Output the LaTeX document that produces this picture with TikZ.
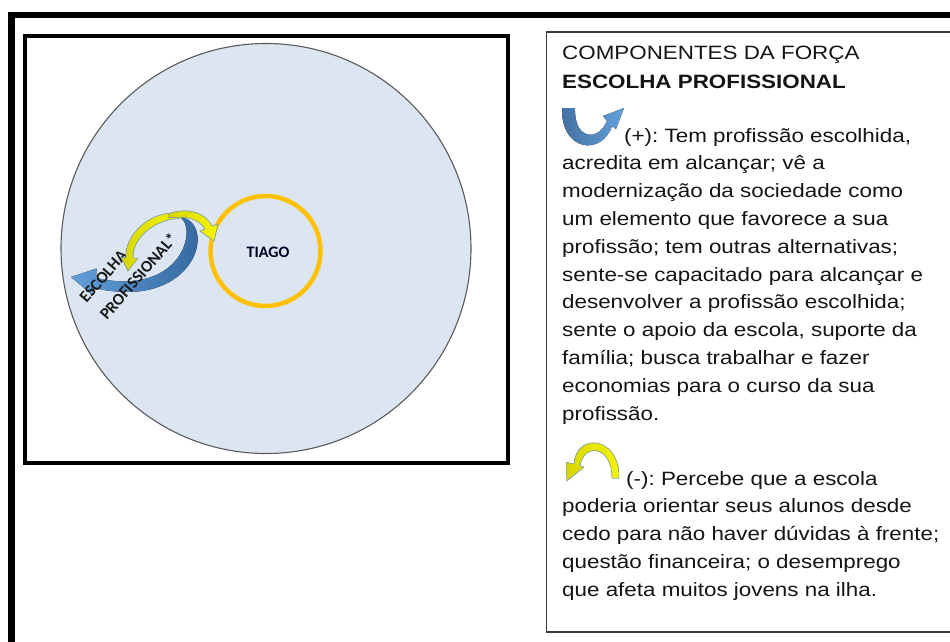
\documentclass[tikz,border=0pt]{standalone}
\usepackage{fontspec}
\setmainfont{Liberation Sans}
\newfontfamily\boxfont[FakeStretch=1.16]{Liberation Sans}
\newfontfamily\labelfont{Carlito}
\frenchspacing
\definecolor{circfill}{HTML}{DCE6F2}
\definecolor{circline}{HTML}{5A5A5A}
\definecolor{tiago}{HTML}{FFC000}
\definecolor{blight}{HTML}{62A0DA}
\definecolor{bdark}{HTML}{2F6198}
\definecolor{yel}{HTML}{F5F500}
\definecolor{yeldark}{HTML}{D6D600}
\definecolor{yline}{HTML}{7F9CC0}
\definecolor{boxline}{HTML}{3A3A3A}
\definecolor{txt}{HTML}{141414}
\tikzset{
  legendline/.style={anchor=base west, inner sep=0pt, text=txt, font=\boxfont\fontsize{19.3}{27.8}\selectfont},
  yellowarrow/.style={left color=yeldark, right color=yel, draw=yline, line width=0.5pt},
  bluearrow/.style={left color=blight, right color=bdark},
  rotlabel/.style={anchor=base west, inner sep=0pt, rotate=49, font=\labelfont\bfseries\fontsize{16.5}{19}\selectfont, text=black!90},
}
\begin{document}
\begin{tikzpicture}[x=1pt,y=-1pt]
\useasboundingbox (0,0) rectangle (950,641);
\begin{scope}
\clip (0,0) rectangle (950,641);
% outer frame
\draw[line width=6.5pt] (980,15) -- (11.5,15) -- (11.5,680);
% left box
\draw[line width=4pt] (25,36) rectangle (508,463);
% right box
\draw[line width=1.3pt, boxline] (980,32) -- (546.5,32) -- (546.5,632) -- (980,632);
\end{scope}

% big circle
\node[circle, draw=circline, fill=circfill, line width=1.1pt, minimum size=410pt, inner sep=0pt] (field) at (266,248.5) {};
% Tiago circle
\node[circle, draw=tiago, line width=4.5pt, minimum size=110pt, inner sep=0pt] (tiagoc) at (265.5,251) {};
\node[font=\labelfont\bfseries\fontsize{16}{18}\selectfont, text=black!85!blue] (tiago) at (268,252.5) {TIAGO};

% blue arrow (behind text)
\fill[bluearrow] (180,217) .. controls (198,228) and (182,297) .. (96.2,278.1)
  -- (96.6,268.5) -- (71,277) -- (92.4,295) -- (93.8,287.9)
  .. controls (197,312) and (218,222) .. (180,217) -- cycle;

% rotated label
\node[rotlabel] (esc) at (86.5,304) {ESCOLHA};
\node[rotlabel] (prof) at (107,321) {PROFISSIONAL*};

% yellow arrows
\filldraw[yellowarrow] (182,214) .. controls (150,208) and (124,236) .. (126,258)
  -- (121,257) -- (128,271) -- (138,258) -- (133,258)
  .. controls (132,240) and (152,219) .. (182,218) -- cycle;
\filldraw[yellowarrow] (168,214) .. controls (186,207) and (205,212) .. (212,226)
  -- (218,224) -- (214,241) -- (200,231) -- (205,229)
  .. controls (199,219) and (185,215) .. (168,218) -- cycle;

% legend text
\node[legendline] (t1) at (562,59) {COMPONENTES DA FORÇA};
\node[legendline, font=\boxfont\bfseries\fontsize{19.3}{27.8}\selectfont] (t2) at (562,88) {ESCOLHA PROFISSIONAL};

% blue legend icon
\fill[left color=bdark!90, right color=blight] (562,108) .. controls (561,152) and (602,156) .. (612,126)
  -- (616,129) -- (624,108) -- (603,116) -- (607,121)
  .. controls (598,142) and (574,140) .. (575,108) -- cycle;

\node[legendline] (p1) at (624,142) {(+): Tem profissão escolhida,};
\node[legendline] (p2) at (562,169.8) {acredita em alcançar; vê a};
\node[legendline] (p3) at (562,197.6) {modernização da sociedade como};
\node[legendline] (p4) at (562,225.4) {um elemento que favorece a sua};
\node[legendline] (p5) at (562,253.2) {profissão; tem outras alternativas;};
\node[legendline] (p6) at (562,281) {sente-se capacitado para alcançar e};
\node[legendline] (p7) at (562,308.8) {desenvolver a profissão escolhida;};
\node[legendline] (p8) at (562,336.6) {sente o apoio da escola, suporte da};
\node[legendline] (p9) at (562,364.4) {família; busca trabalhar e fazer};
\node[legendline] (p10) at (562,392.2) {economias para o curso da sua};
\node[legendline] (p11) at (562,420) {profissão.};

% yellow legend icon
\filldraw[yellowarrow] (619,478) .. controls (620,436) and (576,432) .. (574,464)
  -- (566,462) -- (567,481) -- (584,467) -- (580,466)
  .. controls (584,442) and (612,446) .. (612,478) -- cycle;

\node[legendline] (m1) at (626,485) {(-): Percebe que a escola};
\node[legendline] (m2) at (562,512.8) {poderia orientar seus alunos desde};
\node[legendline] (m3) at (562,540.6) {cedo para não haver dúvidas à frente;};
\node[legendline] (m4) at (562,568.4) {questão financeira; o desemprego};
\node[legendline] (m5) at (562,596.2) {que afeta muitos jovens na ilha.};
\end{tikzpicture}
\end{document}
